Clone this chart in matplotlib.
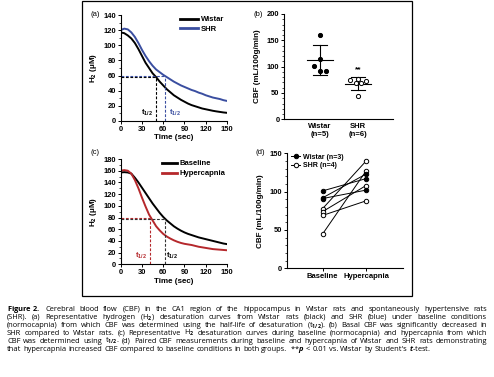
import numpy as np
import matplotlib
matplotlib.use('Agg')
import matplotlib.pyplot as plt
from matplotlib.ticker import MultipleLocator
from matplotlib.lines import Line2D
from matplotlib.patches import Rectangle

# ---- data ----
t = [0, 5, 10, 15, 20, 25, 30, 35, 40, 45, 50, 55, 60, 65, 70, 75, 80, 85, 90, 95,
     100, 105, 110, 115, 120, 125, 130, 135, 140, 145, 150]

wistar_h2 = [117, 116, 113, 109, 103, 95, 86, 77, 70, 63, 58, 52, 47, 42, 38, 34, 31, 28,
             25.5, 23, 21, 19.5, 18, 16.5, 15.5, 14.5, 13.5, 12.7, 12, 11.3, 10.8]
shr_h2 = [120, 122, 121, 117, 111, 103, 94, 86, 79, 73, 68, 64.5, 61, 58, 55, 52, 49.5, 47,
          45, 43, 41, 39.5, 37.5, 36, 34, 32.5, 31, 30, 29, 27.5, 26.5]
half_a = {'wistar': (49.5, 57.5), 'shr': (63, 60)}

baseline_h2 = [157, 157.5, 157, 155, 148, 140, 131, 122, 113, 104, 96, 88, 81, 75, 70, 65,
               61, 57.5, 54.5, 52, 50, 48, 46, 44.5, 43, 41.5, 40, 38.5, 37, 35.5, 34.5]
hyper_h2 = [160, 161, 160, 155, 144, 130, 114, 99, 85, 75, 65, 58, 52, 47.5, 44, 41, 38.5,
            36.5, 35, 34, 33, 31.5, 30, 29, 28, 27, 26, 25.5, 25, 24.5, 24]
half_c = {'baseline': (62, 77), 'hyper': (41, 80)}

groups_b = ['Wistar\n(n=5)', 'SHR\n(n=6)']
wistar_cbf = [160, 114, 102, 92, 92]
wistar_jit = [0, 0, -0.15, 0, 0.15]
shr_cbf = [74.6, 77.1, 72.2, 68.4, 68.4, 44.2]
shr_jit = [-0.22, 0, 0.22, -0.06, 0.07, 0]

cond_d = ['Baseline', 'Hypercapnia']
wistar_pairs = [(101, 117), (92, 123), (91, 102)]
shr_pairs = [(78, 140), (74, 108), (69, 88), (45, 127)]

# '|' marks a space that stays inside a mathtext word
caption = [
    r"$\mathbf{Figure|2.}$ Cerebral blood flow (CBF) in the CA1 region of the hippocampus in Wistar rats and spontaneously hypertensive rats",
    r"(SHR). (a) Representative hydrogen (H$_2$) desaturation curves from Wistar rats (black) and SHR (blue) under baseline conditions",
    r"(normocapnia) from which CBF was determined using the half-life of desaturation (t$_{1/2}$). (b) Basal CBF was significantly decreased in",
    r"SHR compared to Wistar rats. (c) Representative H$_2$ desaturation curves during baseline (normocapnia) and hypercapnia from which",
    r"CBF was determined using t$_{1/2}$. (d) Paired CBF measurements during baseline and hypercapnia of Wistar and SHR rats demonstrating",
    r"that hypercapnia increased CBF compared to baseline conditions in both groups. **$\mathit{p}$ < 0.01 vs. Wistar by Student's $\mathit{t}$-test.",
]

BLUE = '#3a4ea0'
RED = '#b5282c'

plt.rcParams['font.family'] = ['Liberation Sans', 'DejaVu Sans']
plt.rcParams['font.weight'] = 'bold'
plt.rcParams['axes.labelweight'] = 'bold'
plt.rcParams['mathtext.fontset'] = 'custom'
plt.rcParams['mathtext.rm'] = 'Open Sans'
plt.rcParams['mathtext.it'] = 'Open Sans:italic'
plt.rcParams['mathtext.bf'] = 'Open Sans:bold'

W, H = 494, 377
fig = plt.figure(figsize=(W / 100, H / 100), dpi=100)


def box(l, r, b, t_):
    return [l / W, 1 - b / H, (r - l) / W, (b - t_) / H]


def style(ax):
    for s in ['top', 'right']:
        ax.spines[s].set_visible(False)
    for s in ['left', 'bottom']:
        ax.spines[s].set_linewidth(0.8)
    ax.tick_params(which='major', length=2.5, width=0.7, labelsize=5.4, pad=1)
    ax.tick_params(which='minor', length=1.5, width=0.5)


# frame around panels
fig.patches.append(Rectangle((82 / W, 1 - 296 / H), 330 / W, 295 / H,
                             transform=fig.transFigure, fill=False, lw=0.9, ec='black'))

# (a)
ax = fig.add_axes(box(120.7, 227, 121, 15))
style(ax)
ax.plot(t, wistar_h2, color='black', lw=1.4)
ax.plot(t, shr_h2, color=BLUE, lw=1.4)
for key, col in [('wistar', 'black'), ('shr', BLUE)]:
    x0, y0 = half_a[key]
    ax.plot([0, x0], [y0, y0], color=col, lw=0.8, dashes=(2.5, 1.5))
    ax.plot([x0, x0], [0, y0], color=col, lw=0.8, dashes=(2.5, 1.5))
ax.text(37, 4, r'$\mathregular{t_{1/2}}$', color='black', fontsize=5.5, ha='center', va='bottom')
ax.text(77, 4, r'$\mathregular{t_{1/2}}$', color=BLUE, fontsize=5.5, ha='center', va='bottom')
ax.set_xlim(0, 150)
ax.set_ylim(0, 140)
ax.set_xticks(range(0, 151, 30))
ax.set_yticks(range(0, 141, 20))
ax.yaxis.set_minor_locator(MultipleLocator(10))
ax.set_xlabel('Time (sec)', fontsize=5.8, labelpad=1)
ax.set_ylabel(r'H$_\mathbf{2}$ (μM)', fontsize=5.8, labelpad=3)
ax.legend([Line2D([], [], color='black', lw=2), Line2D([], [], color=BLUE, lw=2)],
          ['Wistar', 'SHR'], loc='upper left', bbox_to_anchor=(0.56, 0.99), frameon=False,
          handlelength=2.3, handletextpad=0.4, labelspacing=0.3, borderpad=0, borderaxespad=0,
          prop=dict(weight='bold', size=5.5))

# (b)
ax = fig.add_axes(box(284.3, 392.7, 119.3, 14))
style(ax)
for i, (vals, jit, face) in enumerate([(wistar_cbf, wistar_jit, 'black'), (shr_cbf, shr_jit, 'white')]):
    xs = [i + j for j in jit]
    ax.scatter(xs, vals, s=9, facecolor=face, edgecolor='black', linewidth=0.7, zorder=3)
    m = np.mean(vals)
    sd = np.std(vals, ddof=1)
    ax.plot([i - 0.35, i + 0.35], [m, m], color='black', lw=0.8)
    ax.plot([i, i], [m - sd, m + sd], color='black', lw=0.8)
    ax.plot([i - 0.18, i + 0.18], [m + sd, m + sd], color='black', lw=0.8)
    ax.plot([i - 0.18, i + 0.18], [m - sd, m - sd], color='black', lw=0.8)
ax.text(1, 88, '**', ha='center', va='bottom', fontsize=6)
ax.set_xlim(-0.94, 1.91)
ax.set_ylim(0, 200)
ax.set_xticks([0, 1])
ax.set_xticklabels(groups_b, fontsize=5.5)
ax.tick_params(axis='x', length=0, pad=3)
ax.set_yticks(range(0, 201, 50))
ax.yaxis.set_minor_locator(MultipleLocator(10))
ax.set_ylabel('CBF (mL/100g/min)', fontsize=5.8, labelpad=4)

# (c)
ax = fig.add_axes(box(120.7, 227, 264.3, 159))
style(ax)
ax.plot(t, baseline_h2, color='black', lw=1.4)
ax.plot(t, hyper_h2, color=RED, lw=1.4)
for key, col in [('hyper', RED), ('baseline', '#333333')]:
    x0, y0 = half_c[key]
    ax.plot([0, x0], [y0, y0], color=col, lw=0.8, dashes=(2.5, 1.5))
    ax.plot([x0, x0], [0, y0], color=col, lw=0.8, dashes=(2.5, 1.5))
ax.text(29, 5, r'$\mathregular{t_{1/2}}$', color=RED, fontsize=5.5, ha='center', va='bottom')
ax.text(73, 5, r'$\mathregular{t_{1/2}}$', color='black', fontsize=5.5, ha='center', va='bottom')
ax.set_xlim(0, 150)
ax.set_ylim(0, 180)
ax.set_xticks(range(0, 151, 30))
ax.set_yticks(range(0, 181, 20))
ax.yaxis.set_minor_locator(MultipleLocator(10))
ax.set_xlabel('Time (sec)', fontsize=5.8, labelpad=1)
ax.set_ylabel(r'H$_\mathbf{2}$ (μM)', fontsize=5.8, labelpad=3)
ax.legend([Line2D([], [], color='black', lw=2), Line2D([], [], color=RED, lw=2)],
          ['Baseline', 'Hypercapnia'], loc='upper left', bbox_to_anchor=(0.39, 0.99), frameon=False,
          handlelength=2.0, handletextpad=0.3, labelspacing=0.35, borderpad=0, borderaxespad=0,
          prop=dict(weight='bold', size=5.5))

# (d)
ax = fig.add_axes(box(286.7, 403, 268.3, 153.3))
style(ax)
for a, b in shr_pairs:
    ax.plot([0, 1], [a, b], color='black', lw=0.7, marker='o', ms=3.2, mfc='white', mec='black', mew=0.7)
for a, b in wistar_pairs:
    ax.plot([0, 1], [a, b], color='black', lw=0.7, marker='o', ms=3.2, mfc='black', mec='black', mew=0.7)
ax.set_xlim(-0.83, 1.85)
ax.set_ylim(0, 150)
ax.set_xticks([0, 1])
ax.set_xticklabels(cond_d, fontsize=5.5)
ax.set_yticks(range(0, 151, 50))
ax.yaxis.set_minor_locator(MultipleLocator(10))
ax.set_ylabel('CBF (mL/100g/min)', fontsize=5.8, labelpad=4)
ax.legend([Line2D([], [], color='black', lw=0.7, marker='o', ms=3.2, mfc='black', mew=0.7),
           Line2D([], [], color='black', lw=0.7, marker='o', ms=3.2, mfc='white', mew=0.7)],
          ['Wistar (n=3)', 'SHR (n=4)'], loc='upper left', bbox_to_anchor=(0.04, 0.995), frameon=False,
          handlelength=1.3, handletextpad=0.4, labelspacing=0.2, borderpad=0, borderaxespad=0,
          numpoints=1, prop=dict(weight='bold', size=5.0))

# panel letters
for lab, x, y in [('(a)', 90.5, 14), ('(b)', 254, 14), ('(c)', 90.5, 152), ('(d)', 255, 152.5)]:
    fig.text(x / W, 1 - y / H, lab, fontsize=5.5, fontweight='normal', va='center', ha='left')

# caption: word by word, justified to the box width except the last line
baselines = [311, 319, 327, 335, 343, 351]
r = fig.canvas.get_renderer()
rows = []
for line, y in zip(caption, baselines):
    words = [wd.replace('|', r'\ ') for wd in line.split(' ')]
    rows.append([fig.text(0, 1 - y / H, wd, fontsize=4.7, fontweight='normal',
                          family=['Open Sans', 'DejaVu Sans'], va='baseline', ha='left')
                 for wd in words])

# a bit under the largest size at which every justified line fits with plain spaces
space = 4.7 * 100 / 72 * 0.26
fs = 0.96 * min(4.7 * 480 / (sum(o.get_window_extent(renderer=r).width for o in row)
                             + (len(row) - 1) * space) for row in rows[:-1])
for row in rows:
    for o in row:
        o.set_fontsize(fs)

for i, row in enumerate(rows):
    widths = [o.get_window_extent(renderer=r).width for o in row]
    if i < len(rows) - 1:
        gap = (480 - sum(widths)) / (len(row) - 1)
    else:
        gap = fs * 100 / 72 * 0.26
    x = 7.0
    for o, wd in zip(row, widths):
        o.set_x(x / W)
        x += wd + gap

fig.savefig('out.png', dpi=100)
